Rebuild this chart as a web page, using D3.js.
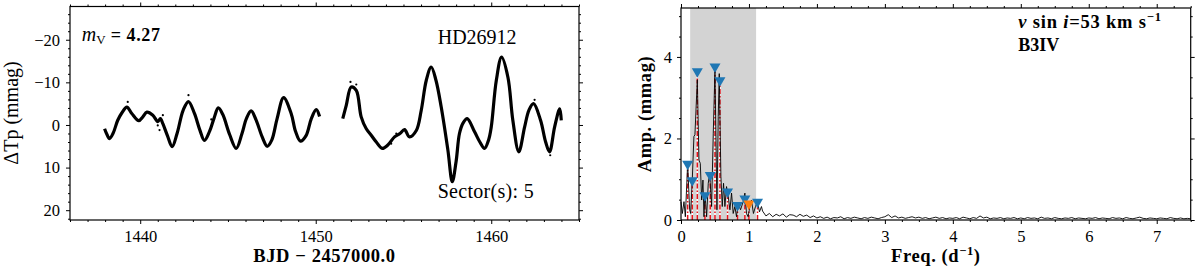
<!DOCTYPE html>
<html><head><meta charset="utf-8">
<script src="https://cdn.jsdelivr.net/npm/d3@7"></script>
<style>
html,body{margin:0;padding:0;background:#fff;}
svg{display:block;}
.tick text{font-family:"Liberation Serif",serif;font-size:16.5px;fill:#000;}
</style></head>
<body>
<svg id="c" width="1200" height="274"></svg>
<script>
// ---------------- DATA ----------------
// Light curve, sector 5 (BJD - 2457000, mmag); two segments separated by the data gap
const lcSeg1Days = [1437.97,1438.1,1438.25,1438.45,1438.72,1438.95,1439.24,1439.52,1439.92,1440.15,1440.38,1440.72,1441.0,1441.15,1441.29,1441.55,1441.82,1442.1,1442.45,1442.75,1443.09,1443.4,1443.66,1443.95,1444.2,1444.45,1444.7,1445.1,1445.47,1445.8,1446.05,1446.32,1446.6,1446.95,1447.24,1447.5,1447.8,1448.17,1448.6,1448.85,1449.13,1449.45,1449.75,1450.03,1450.22];
const lcSeg1Mags = [0.9,2.2,3.2,2.0,-1.1,-2.8,-4.2,-2.7,-1.0,-1.9,-3.0,-2.3,-0.8,-1.5,-0.3,2.5,5.1,2.0,-3.5,-5.5,-2.7,1.2,3.6,1.5,-1.5,-4.0,-2.5,2.3,5.5,2.0,-1.5,-3.3,-1.2,2.8,5.0,3.5,-1.5,-6.4,-2.7,1.5,3.8,2.5,-1.5,-3.6,-2.0];
const lcSeg2Days = [1451.54,1451.74,1452.02,1452.31,1452.59,1452.88,1453.16,1453.45,1453.79,1454.11,1454.49,1454.8,1455.06,1455.34,1455.73,1456.01,1456.3,1456.58,1456.85,1457.15,1457.53,1457.78,1458.0,1458.19,1458.4,1458.63,1459.05,1459.35,1459.62,1459.85,1460.0,1460.29,1460.59,1460.95,1461.23,1461.57,1461.9,1462.15,1462.41,1462.81,1463.1,1463.32,1463.61,1463.9,1463.99];
const lcSeg2Mags = [-1.5,-4.6,-8.9,-8.1,-1.9,0.9,2.4,4.0,5.5,4.7,2.8,2.0,1.1,2.8,1.3,-3.4,-10.5,-13.6,-10.5,-4.2,5.9,13.3,8.5,2.0,-0.5,-1.5,1.6,4.0,5.5,3.5,0.5,-10.5,-15.9,-11.2,-1.1,6.3,0.5,-3.5,-5.0,-1.1,4.0,6.3,0.5,-3.8,-1.1];
// a few scattered outlying photometric points
const outlierDays = [1439.29,1442.75,1441.0,1441.1,1441.29,1444.05,1451.98,1452.31,1454.3,1454.59,1462.47,1463.36];
const outlierMags = [-5.4,-7.0,0.1,1.2,-2.3,-1.3,-10.1,-9.5,4.4,2.0,-5.9,7.1];

// Amplitude spectrum, low-frequency part (d^-1, mmag)
const specLowFreq = [0,0.02,0.044,0.064,0.098,0.127,0.142,0.166,0.19,0.205,0.24,0.264,0.284,0.304,0.323,0.338,0.352,0.377,0.401,0.421,0.45,0.475,0.5,0.529,0.548,0.563,0.587,0.607,0.626,0.646,0.67,0.695,0.72,0.744,0.768,0.793,0.817,0.842,0.876,0.915,0.94,0.964,0.988,1.013,1.037,1.066,1.096,1.125,1.155,1.184];
const specLowAmp  = [0.45,0.16,0.45,0.08,1.39,0.25,0.16,0.98,2.05,2.09,3.44,1.47,1.39,0.49,0.98,0.08,0.66,0.08,0.90,1.15,0.33,2.13,3.70,0.25,2.54,3.59,1.07,0.33,0.90,0.33,0.82,0.57,0.25,0.66,0.16,0.33,0.08,0.41,0.25,0.45,0.66,0.16,0.08,0.33,0.49,0.16,0.33,0.45,0.20,0.33];
// Amplitude spectrum, noise part: frequencies 1.20, 1.25, ... 7.50
const specNoiseStart = 1.2, specNoiseStep = 0.05;
const specNoiseAmp = [0.22,0.10,0.16,0.08,0.14,0.10,0.15,0.07,0.13,0.12,0.08,0.14,0.09,0.12,0.06,0.10,
 0.05,0.08,0.04,0.07,0.03,0.06,0.05,0.08,0.03,0.06,0.04,0.07,0.05,0.03,0.06,0.04,0.07,0.05,0.03,0.06,
 0.08,0.13,0.06,0.10,0.05,0.07,0.04,0.06,0.08,0.05,0.07,0.04,0.06,0.03,0.05,0.07,0.04,0.06,0.03,0.05,
 0.04,0.06,0.03,0.07,0.05,0.03,0.06,0.04,0.10,0.05,0.07,0.03,0.05,0.04,0.06,0.03,0.05,0.04,0.06,0.03,
 0.05,0.03,0.06,0.04,0.05,0.03,0.07,0.04,0.05,0.03,0.06,0.04,0.03,0.05,0.04,0.06,0.03,0.05,0.04,0.03,
 0.05,0.04,0.06,0.03,0.05,0.04,0.03,0.06,0.04,0.05,0.03,0.06,0.04,0.03,0.05,0.07,0.04,0.03,0.05,0.04,
 0.03,0.05,0.04,0.03,0.06,0.04,0.03,0.05,0.03,0.04,0.03];
// Extracted frequencies (markers)
const peakFreq = [0.098,0.166,0.24,0.352,0.43,0.50,0.573,0.685,0.832,0.94,0.999,1.126];
const peakAmp  = [1.34,0.94,3.61,0.57,1.07,3.73,3.39,0.66,0.33,0.49,0.37,0.41];
const peakKind = ["b","b","b","b","b","b","b","b","b","b","o","b"];
// Shaded frequency range
const shadeRange = [0.135, 1.105];

// Tick values
const lcXTicks = [1440,1450,1460];
const lcYTicks = [-20,-10,0,10,20];
const spXTicks = [0,1,2,3,4,5,6,7];
const spYTicks = [0,2,4];

// ---------------- DRAWING ----------------
const svg = d3.select("#c");
const serif = "'Liberation Serif', serif";

function frameAxes(g, x, y, P, xt, yt, xminor, yminor, ypad) {
  const fmt = d3.format("d");
  const majorLen = 4, minorLen = 2;
  g.append("g").attr("transform",`translate(0,${P.y1})`)
    .call(d3.axisBottom(x).tickValues(xminor).tickSize(minorLen).tickFormat(""));
  g.append("g").attr("transform",`translate(0,${P.y1})`)
    .call(d3.axisBottom(x).tickValues(xt).tickSize(majorLen).tickPadding(6).tickFormat(fmt));
  g.append("g").attr("transform",`translate(0,${P.y0})`)
    .call(d3.axisTop(x).tickValues(xminor).tickSize(minorLen).tickFormat(""));
  g.append("g").attr("transform",`translate(0,${P.y0})`)
    .call(d3.axisTop(x).tickValues(xt).tickSize(majorLen).tickFormat(""));
  g.append("g").attr("transform",`translate(${P.x0},0)`)
    .call(d3.axisLeft(y).tickValues(yminor).tickSize(minorLen).tickFormat(""));
  g.append("g").attr("transform",`translate(${P.x0},0)`)
    .call(d3.axisLeft(y).tickValues(yt).tickSize(majorLen).tickPadding(ypad).tickFormat(fmt));
  g.append("g").attr("transform",`translate(${P.x1},0)`)
    .call(d3.axisRight(y).tickValues(yminor).tickSize(minorLen).tickFormat(""));
  g.append("g").attr("transform",`translate(${P.x1},0)`)
    .call(d3.axisRight(y).tickValues(yt).tickSize(majorLen).tickFormat(""));
  g.selectAll(".domain").remove();
  g.selectAll(".tick line").attr("stroke","#000").attr("stroke-width",1);
  g.append("rect").attr("x",P.x0).attr("y",P.y0).attr("width",P.x1-P.x0).attr("height",P.y1-P.y0)
    .attr("fill","none").attr("stroke","#000").attr("stroke-width",1.2);
}
function boldText(g){
  return g.append("text").attr("font-family",serif).attr("font-weight","bold");
}

// ---- Left panel: light curve ----
const L = {x0:70, x1:579, y0:6.5, y1:220};
const xL = d3.scaleLinear().domain([1436,1465]).range([L.x0,L.x1]);
const yL = d3.scaleLinear().domain([-27.8,22.3]).range([L.y0,L.y1]);
const gL = svg.append("g");
const line = d3.line().x(d=>xL(d[0])).y(d=>yL(d[1])).curve(d3.curveCatmullRom.alpha(0.5));
[[lcSeg1Days,lcSeg1Mags],[lcSeg2Days,lcSeg2Mags]].forEach(([dd,mm])=>{
  gL.append("path").datum(dd.map((d,i)=>[d,mm[i]])).attr("d",line)
    .attr("fill","none").attr("stroke","#000").attr("stroke-width",3.2).attr("stroke-linejoin","round");
});
gL.selectAll("circle.o").data(outlierDays.map((d,i)=>[d,outlierMags[i]])).enter().append("circle")
  .attr("cx",d=>xL(d[0])).attr("cy",d=>yL(d[1])).attr("r",1.1).attr("fill","#000");
const lcXMinor = d3.range(1436,1466,1).filter(v=>!lcXTicks.includes(v));
const lcYMinor = d3.range(-26,23,2).filter(v=>v%10!==0);
frameAxes(gL, xL, yL, L, lcXTicks, lcYTicks, lcXMinor, lcYMinor, 6);

const mv = gL.append("text").attr("x",81.7).attr("y",40.7).attr("font-family",serif).attr("font-size",20);
mv.append("tspan").attr("font-style","italic").text("m");
mv.append("tspan").attr("font-size",13).attr("dy",3).text("V");
mv.append("tspan").attr("dy",-3).attr("font-weight","bold").attr("font-size",18).attr("letter-spacing",0.6).text(" = 4.27");
gL.append("text").attr("x",437.7).attr("y",44.3).attr("font-family",serif).attr("font-size",20).text("HD26912");
gL.append("text").attr("x",437.7).attr("y",198.3).attr("font-family",serif).attr("font-size",20).attr("letter-spacing",0.3).text("Sector(s): 5");
gL.append("text").attr("transform","translate(18,113) rotate(-90)").attr("text-anchor","middle")
  .attr("font-family",serif).attr("font-size",20).text("ΔTp (mmag)");
boldText(gL).attr("x",(L.x0+L.x1)/2).attr("y",262).attr("text-anchor","middle")
  .attr("font-size",18.5).attr("letter-spacing",0.6).text("BJD − 2457000.0");

// ---- Right panel: amplitude spectrum ----
const R = {x0:681, x1:1190.7, y0:8, y1:220};
const xR = d3.scaleLinear().domain([0,7.5]).range([R.x0,R.x1]);
const yR = d3.scaleLinear().domain([0,5.2]).range([R.y1,R.y0]);
const gR = svg.append("g");
gR.append("rect").attr("x",xR(shadeRange[0])).attr("y",R.y0).attr("width",xR(shadeRange[1])-xR(shadeRange[0]))
  .attr("height",R.y1-R.y0).attr("fill","#d3d3d3");
const peaks = peakFreq.map((f,i)=>({f, a:peakAmp[i], k:peakKind[i]}));
gR.selectAll("line.w").data(peaks).enter().append("line")
  .attr("x1",d=>xR(d.f)).attr("x2",d=>xR(d.f)).attr("y1",yR(0)).attr("y2",d=>yR(d.a))
  .attr("stroke","#fff").attr("stroke-width",1.5);
gR.selectAll("line.r").data(peaks).enter().append("line")
  .attr("x1",d=>xR(d.f)).attr("x2",d=>xR(d.f)).attr("y1",yR(0)).attr("y2",d=>yR(d.a))
  .attr("stroke","#e8121a").attr("stroke-width",1.5).attr("stroke-dasharray","5,2,1.5,2");
const spec = specLowFreq.map((f,i)=>[f,specLowAmp[i]])
  .concat(specNoiseAmp.map((a,i)=>[specNoiseStart+i*specNoiseStep,a]));
gR.append("path").datum(spec)
  .attr("d",d3.line().x(d=>xR(d[0])).y(d=>yR(d[1])))
  .attr("fill","none").attr("stroke","#000").attr("stroke-width",0.9);
gR.selectAll("path.m").data(peaks).enter().append("path")
  .attr("transform",d=>`translate(${xR(d.f)},${yR(d.a)})`)
  .attr("d","M-5.5,-4.5L5.5,-4.5L0,5Z")
  .attr("fill",d=>d.k==="o"?"#ff7f0e":"#1f77b4");
const spXMinor = d3.range(0,7.51,0.25).filter(v=>Math.abs(v-Math.round(v))>1e-6);
const spYMinor = d3.range(0.5,5.1,0.5).filter(v=>Math.abs(v/2-Math.round(v/2))>1e-6);
frameAxes(gR, xR, yR, R, spXTicks, spYTicks, spXMinor, spYMinor, 5);

const vs = boldText(gR).attr("x",1018.3).attr("y",28).attr("font-size",18.5).attr("letter-spacing",0.8);
vs.append("tspan").attr("font-style","italic").text("v");
vs.append("tspan").text(" sin ");
vs.append("tspan").attr("font-style","italic").text("i");
vs.append("tspan").text("=53 km s");
vs.append("tspan").attr("font-size",12.5).attr("dy",-7).text("−1");
boldText(gR).attr("x",1018.3).attr("y",50.5).attr("font-size",18).text("B3IV");
boldText(gR).attr("transform","translate(651,114) rotate(-90)").attr("text-anchor","middle")
  .attr("font-size",18.5).attr("letter-spacing",0.6).text("Amp. (mmag)");
const fq = boldText(gR).attr("x",(R.x0+R.x1)/2).attr("y",262).attr("text-anchor","middle")
  .attr("font-size",18.5).attr("letter-spacing",0.6);
fq.append("tspan").text("Freq. (d");
fq.append("tspan").attr("font-size",12.5).attr("dy",-7).text("−1");
fq.append("tspan").attr("dy",7).text(")");
</script>
</body></html>
